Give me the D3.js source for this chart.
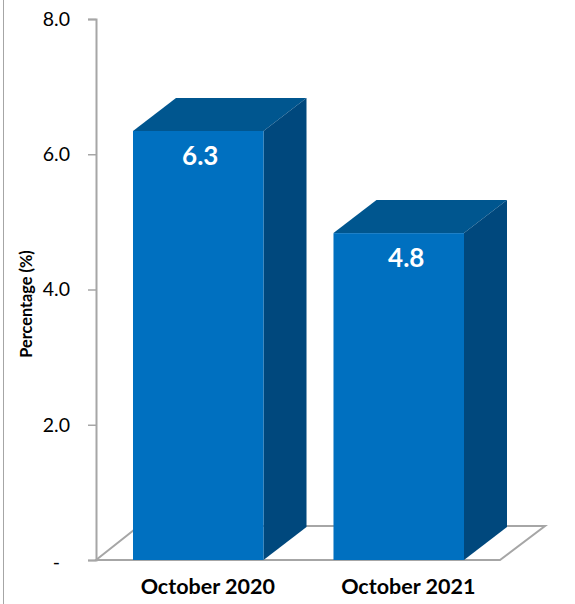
<!DOCTYPE html>
<html><head><meta charset="utf-8">
<script src="https://cdn.jsdelivr.net/npm/d3@7"></script>
<style>html,body{margin:0;padding:0;background:#fff}svg{display:block}text{font-family:Lato,sans-serif}</style>
</head><body><svg id="c" width="575" height="604"></svg>
<script>
const categories = ["October 2020","October 2021"];
const values = [6.3,4.8];
const valueLabels = ["6.3","4.8"];
const tickValues = [0,2,4,6,8];
const tickLabels = ["-","2.0","4.0","6.0","8.0"];
const yAxisTitle = "Percentage (%)";

const svg = d3.select("#c");
const gray = "#a6a6a6";
const depthX = 43, depthY = 33;
const labelShift = i => i === 0 ? 2 : 7.5;
const axisY = d3.scaleLinear().domain([0,8]).range([560,19]);
const barY = d3.scaleLinear().domain([0,8]).range([560,15.2]);
const x = d3.scaleBand().domain(categories).range([133,464]).paddingInner(0.349).paddingOuter(0);

// frame edge
svg.append("line").attr("x1",3.5).attr("x2",3.5).attr("y1",0).attr("y2",604).attr("stroke",gray).attr("stroke-width",1);

// floor
const fx0=96, fx1=500;
svg.append("path")
  .attr("d",`M${fx0},${axisY(0)}L${fx0+depthX},${axisY(0)-depthY-1}L${fx1+depthX+2},${axisY(0)-depthY-1}L${fx1},${axisY(0)}Z`)
  .attr("fill","#fff").attr("stroke",gray).attr("stroke-width",2);

// axis
const yAxis = d3.axisLeft(axisY).tickValues(tickValues).tickSize(8).tickPadding(18)
  .tickFormat((d,i)=>tickLabels[i]);
const g = svg.append("g").attr("transform","translate(96,0)").call(yAxis);
g.select(".domain").attr("stroke",gray).attr("stroke-width",2);
g.selectAll(".tick line").attr("stroke",gray).attr("stroke-width",1.5);
g.selectAll(".tick text").attr("fill","#000").style("font-size","19.5px").style("font-family","Lato, sans-serif");
g.selectAll(".tick text").filter(d=>d===0).attr("dx",-10).attr("y",2);

// bars
const bars = svg.selectAll("g.bar").data(categories).join("g").attr("class","bar");
bars.append("path").attr("fill","#00568f").attr("d",(d,i)=>{
  const l=x(d), r=l+x.bandwidth(), t=barY(values[i]);
  return `M${l},${t}L${l+depthX},${t-depthY}L${r+depthX},${t-depthY}L${r},${t}Z`;});
bars.append("path").attr("fill","#00487d").attr("d",(d,i)=>{
  const r=x(d)+x.bandwidth(), t=barY(values[i]), b=barY(0);
  return `M${r},${t}L${r+depthX},${t-depthY}L${r+depthX},${b-depthY}L${r},${b}Z`;});
bars.append("rect").attr("fill","#0070c0")
  .attr("x",d=>x(d)).attr("width",x.bandwidth())
  .attr("y",(d,i)=>barY(values[i])).attr("height",(d,i)=>barY(0)-barY(values[i]));
bars.append("text").text((d,i)=>valueLabels[i])
  .attr("x",(d,i)=>x(d)+x.bandwidth()/2+labelShift(i)).attr("y",(d,i)=>barY(values[i])+34)
  .attr("text-anchor","middle").attr("fill","#fff").style("font-size","26px").style("font-weight",700);
bars.append("text").text(d=>d)
  .attr("x",(d,i)=>x(d)+x.bandwidth()/2+9.5).attr("y",594)
  .attr("text-anchor","middle").attr("fill","#000").style("font-size","21.5px").style("font-weight",700);

svg.append("text").text(yAxisTitle)
  .attr("transform","translate(32,304) rotate(-90)")
  .attr("text-anchor","middle").attr("fill","#000").style("font-size","16.3px").style("font-weight",700);
</script></body></html>
